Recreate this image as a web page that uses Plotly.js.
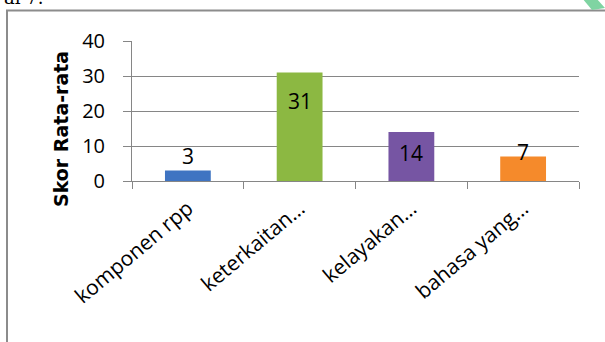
<!DOCTYPE html>
<html>
<head>
<meta charset="utf-8">
<script src="https://cdn.plot.ly/plotly-3.0.1.min.js"></script>
<style>
html,body{margin:0;padding:0;background:#fff;}
#chart{width:605px;height:342px;}
</style>
</head>
<body>
<div id="chart"></div>
<script>
// ---- data ----
const categories = ["komponen rpp", "keterkaitan…", "kelayakan…", "bahasa yang…"];
const scores = [3, 31, 14, 7];
const barColors = ["#3f74c2", "#8cb842", "#7655a3", "#f58a2b"];
const yTickVals = [0, 10, 20, 30, 40];
const yAxisTitle = "Skor Rata-rata";
const captionText = "ai 7.";

// ---- styling constants ----
const W = 605, H = 342;
const L = 132, R = 579, T = 41, B = 181;
const labelShift = [15, -28, -21, 5];   // px offsets of value labels
const font = "'Open Sans', sans-serif";

function px2paperX(px){ return (px - L) / (R - L); }
function px2paperY(py){ return (B - py) / (B - T); }

const trace = {
  type: "bar",
  x: categories,
  y: scores,
  marker: { color: barColors, line: { width: 0 } },
  hoverinfo: "none"
};

const annotations = scores.map((v, i) => ({
  x: categories[i], y: v, xref: "x", yref: "y",
  text: String(v), showarrow: false,
  yshift: labelShift[i],
  font: { family: font, size: 21, color: "#000" }
}));

annotations.push({
  xref: "paper", yref: "paper",
  x: px2paperX(61), y: px2paperY(129), xanchor: "center", yanchor: "middle",
  text: "<b>" + yAxisTitle + "</b>", textangle: -90, showarrow: false,
  font: { family: "'DejaVu Sans', sans-serif", size: 19, color: "#000" }
});
annotations.push({
  xref: "paper", yref: "paper",
  x: px2paperX(2), y: px2paperY(10), xanchor: "left", yanchor: "bottom",
  text: captionText, showarrow: false,
  font: { family: "'DejaVu Serif', serif", size: 18, color: "#000" }
});

const layout = {
  width: W, height: H,
  margin: { l: L, r: W - R, t: T, b: H - B, pad: 0 },
  paper_bgcolor: "#fff", plot_bgcolor: "#fff",
  bargap: 0.59,
  showlegend: false,
  xaxis: {
    type: "category",
    showgrid: false,
    showline: true, linecolor: "#868686", linewidth: 1,
    ticks: "outside", tickson: "boundaries", ticklen: 7, tickcolor: "#868686",
    tickangle: -40,
    tickfont: { family: font, size: 21, color: "#000" },
    ticklabelstandoff: 6
  },
  yaxis: {
    range: [0, 40], tickvals: yTickVals,
    showgrid: true, gridcolor: "#868686", gridwidth: 1,
    showline: true, linecolor: "#868686", linewidth: 1,
    ticks: "outside", ticklen: 8, tickcolor: "#868686",
    tickfont: { family: font, size: 20, color: "#000" },
    ticklabelstandoff: 14,
    zeroline: false
  },
  annotations: annotations,
  shapes: [
    { type: "path", xref: "paper", yref: "paper",
      path: "M " + px2paperX(7) + " " + px2paperY(400) +
            " L " + px2paperX(7) + " " + px2paperY(10.5) +
            " L " + px2paperX(640) + " " + px2paperY(10.5),
      line: { color: "#8c8c8c", width: 2 }, fillcolor: "rgba(0,0,0,0)" },
    { type: "path", xref: "paper", yref: "paper",
      path: "M " + px2paperX(582) + " " + px2paperY(-2) +
            " L " + px2paperX(596) + " " + px2paperY(-2) +
            " L " + px2paperX(605) + " " + px2paperY(8) +
            " L " + px2paperX(592) + " " + px2paperY(10) + " Z",
      line: { width: 0 }, fillcolor: "#7fd4a2" }
  ]
};

Plotly.newPlot("chart", [trace], layout, { staticPlot: true, displayModeBar: false });
</script>
</body>
</html>
